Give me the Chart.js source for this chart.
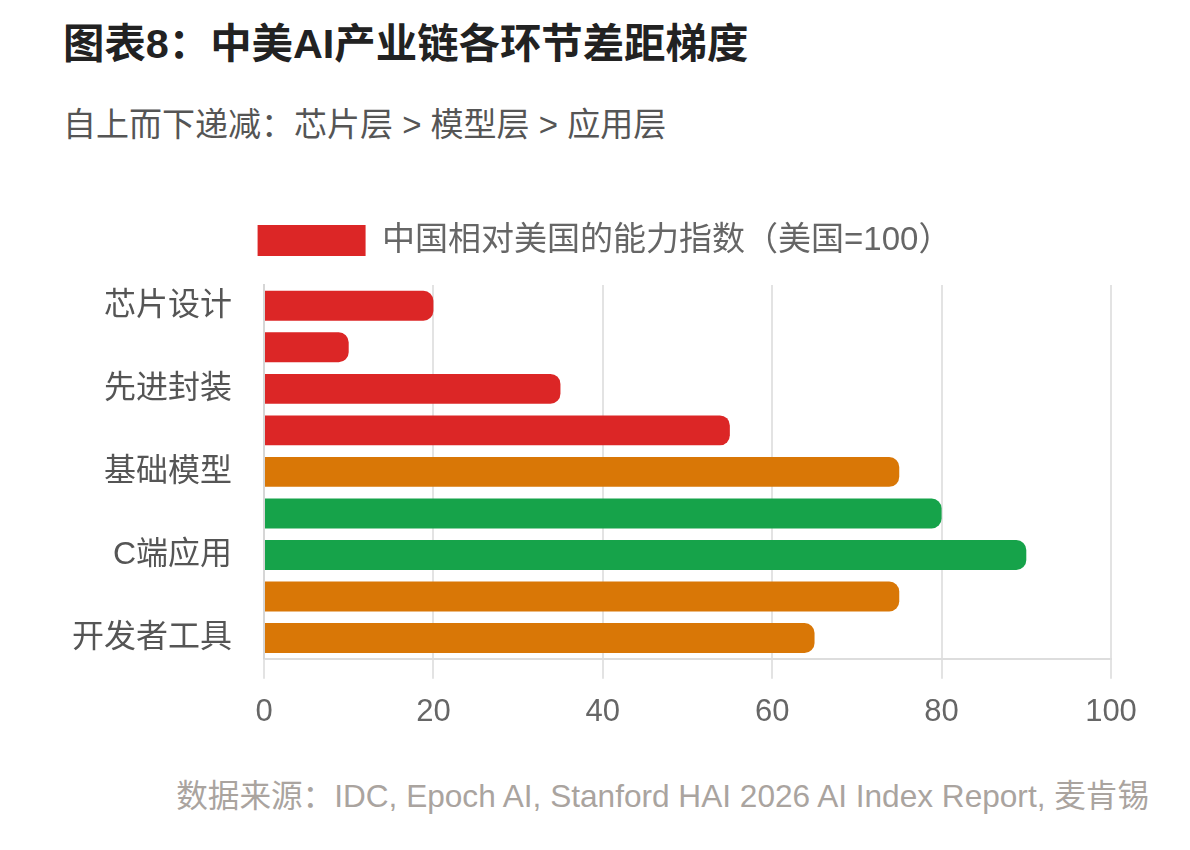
<!DOCTYPE html>
<html>
<head>
<meta charset="utf-8">
<script src="https://cdn.jsdelivr.net/npm/chart.js@4.4.0/dist/chart.umd.min.js"></script>
<style>
  html, body { margin: 0; padding: 0; background: #fff; }
  body { width: 1190px; height: 850px; position: relative; overflow: hidden;
         font-family: "Liberation Sans", "Noto Sans CJK SC", sans-serif; }
  #title { position: absolute; left: 63px; top: 10px; font-size: 41.4px; font-weight: bold; color: #222; white-space: nowrap; }
  #subtitle { position: absolute; left: 63px; top: 98px; font-size: 33px; color: #555; white-space: nowrap; }
  #wrap { position: absolute; left: 0; top: 212px; width: 1190px; height: 534px; }
  #footer { position: absolute; right: 41px; top: 770px; font-size: 31.6px; color: #aaa49f; white-space: nowrap; }
</style>
</head>
<body>
<div id="title">图表8：中美AI产业链各环节差距梯度</div>
<div id="subtitle">自上而下递减：芯片层 &gt; 模型层 &gt; 应用层</div>
<div id="wrap"><canvas id="c"></canvas></div>
<div id="footer">数据来源：IDC, Epoch AI, Stanford HAI 2026 AI Index Report, 麦肯锡</div>
<script>
const categories = ["芯片设计", "芯片制造", "先进封装", "算力集群", "基础模型", "行业应用", "C端应用", "开源生态", "开发者工具"];
const values = [20, 10, 35, 55, 75, 80, 90, 75, 65];
const barColors = ["#dc2626", "#dc2626", "#dc2626", "#dc2626", "#d97706", "#16a34a", "#16a34a", "#d97706", "#d97706"];
const seriesName = "中国相对美国的能力指数（美国=100）";
const xTicks = [0, 20, 40, 60, 80, 100];

const fontFamily = '"Liberation Sans", "Noto Sans CJK SC", sans-serif';

const legendSpacer = {
  id: 'legendSpacer',
  beforeInit(chart) {
    const origFit = chart.legend.fit;
    chart.legend.fit = function () {
      origFit.bind(chart.legend)();
      this.height += 18;
    };
  },
  afterLayout(chart) {
    chart.legend.left += 25;
    chart.legend.right += 25;
  }
};

new Chart(document.getElementById('c'), {
  type: 'bar',
  data: {
    labels: categories,
    datasets: [{
      label: seriesName,
      data: values,
      backgroundColor: barColors,
      borderWidth: 0,
      borderRadius: 10,
      borderSkipped: 'start'
    }]
  },
  plugins: [legendSpacer],
  options: {
    indexAxis: 'y',
    responsive: true,
    maintainAspectRatio: false,
    animation: false,
    layout: { padding: { left: 48, right: 79, top: 0, bottom: 0 } },
    plugins: {
      legend: {
        display: true,
        position: 'top',
        labels: {
          boxWidth: 108,
          boxHeight: 31,
          padding: 12,
          color: '#666',
          font: { size: 33, family: fontFamily },
          generateLabels: (chart) => [{
            text: seriesName,
            fillStyle: barColors[0],
            strokeStyle: barColors[0],
            fontColor: '#666',
            lineWidth: 0,
            hidden: false,
            datasetIndex: 0
          }]
        }
      },
      tooltip: { enabled: false }
    },
    scales: {
      x: {
        min: 0,
        max: 100,
        afterBuildTicks: (axis) => { axis.ticks = xTicks.map(v => ({ value: v })); },
        grid: { color: '#e3e3e3', lineWidth: 2, tickLength: 20, drawTicks: true },
        border: { color: '#dddddd', width: 2 },
        ticks: { color: '#666', padding: 15, font: { size: 31, family: fontFamily } }
      },
      y: {
        grid: { display: false },
        border: { color: '#d6d6d6', width: 2 },
        ticks: { color: '#555', padding: 24, autoSkip: true, autoSkipPadding: 10, font: { size: 32, family: fontFamily } }
      }
    }
  }
});
</script>
</body>
</html>
